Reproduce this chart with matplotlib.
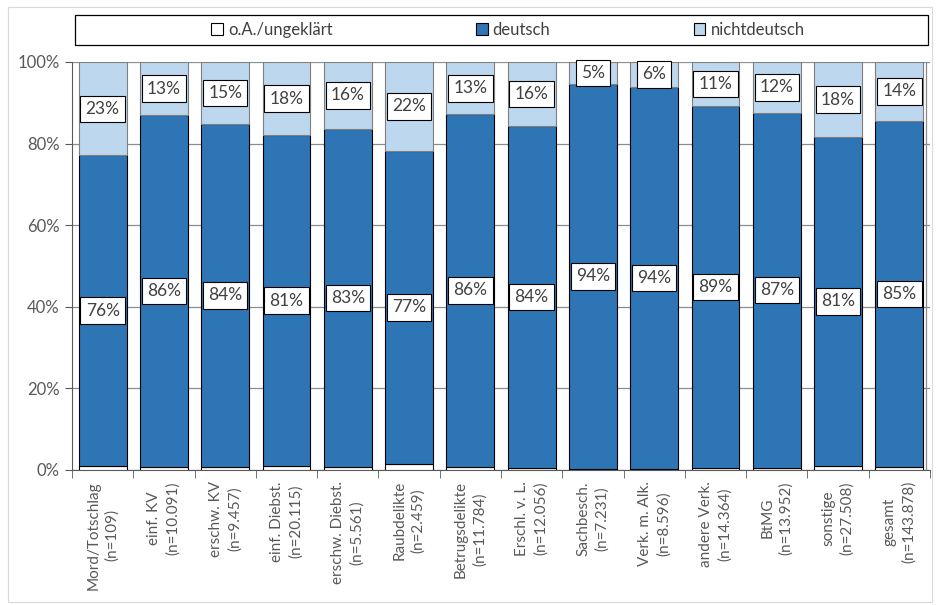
import matplotlib.pyplot as plt
import numpy as np
from matplotlib.patches import Rectangle

plt.rcParams['font.family'] = ['Lato', 'DejaVu Sans']

categories = ['Mord/Totschlag\n(n=109)', 'einf. KV\n(n=10.091)', 'erschw. KV\n(n=9.457)',
              'einf. Diebst.\n(n=20.115)', 'erschw. Diebst.\n(n=5.561)', 'Raubdelikte\n(n=2.459)',
              'Betrugsdelikte\n(n=11.784)', 'Erschl. v. L.\n(n=12.056)', 'Sachbesch.\n(n=7.231)',
              'Verk. m. Alk.\n(n=8.596)', 'andere Verk.\n(n=14.364)', 'BtMG\n(n=13.952)',
              'sonstige\n(n=27.508)', 'gesamt\n(n=143.878)']
oa = [1.0, 0.8, 0.8, 0.9, 0.8, 1.5, 0.8, 0.5, 0.3, 0.2, 0.4, 0.6, 1.0, 0.8]
deutsch = [76.1, 86.2, 84.0, 81.2, 82.8, 76.7, 86.4, 83.8, 94.3, 93.7, 88.8, 87.0, 80.6, 84.8]
nichtdeutsch = [22.9, 13.0, 15.2, 17.9, 16.4, 21.8, 12.7, 15.7, 5.4, 6.1, 10.8, 12.4, 18.4, 14.4]

c_oa = '#ffffff'
c_de = '#2e75b6'
c_nd = '#bdd7ee'
txt = '#404040'

fig = plt.figure(figsize=(9.4, 6.05), dpi=100)
ax = fig.add_axes([72 / 940, 135 / 605, (930 - 72) / 940, (470 - 62) / 605])

x = np.arange(len(categories))
oa = np.array(oa)
deutsch = np.array(deutsch)
nichtdeutsch = np.array(nichtdeutsch)

w = 0.78
ax.bar(x, oa, w, color=c_oa, edgecolor='black', linewidth=0.8, label='o.A./ungeklärt', zorder=3)
ax.bar(x, deutsch, w, bottom=oa, color=c_de, edgecolor='black', linewidth=0.8, label='deutsch', zorder=3)
ax.bar(x, nichtdeutsch, w, bottom=oa + deutsch, color=c_nd, edgecolor='#7f7f7f', linewidth=0.8,
       label='nichtdeutsch', zorder=3)

box = dict(boxstyle='square,pad=0.3', fc='white', ec='black', lw=0.8)
for i in x:
    ax.text(i, oa[i] + deutsch[i] / 2, f'{deutsch[i]:.0f}%', ha='center', va='center',
            fontsize=12.5, color=txt, bbox=box, zorder=5)
    ax.text(i, oa[i] + deutsch[i] + nichtdeutsch[i] / 2, f'{nichtdeutsch[i]:.0f}%', ha='center',
            va='center', fontsize=12.5, color=txt, bbox=box, zorder=5)

ax.set_xlim(-0.5, len(categories) - 0.5)
ax.set_ylim(0, 100)
ax.set_yticks(np.arange(0, 101, 20))
ax.set_yticklabels([f'{v}%' for v in range(0, 101, 20)], fontsize=12, color='#595959')
ax.yaxis.grid(True, color='#8c8c8c', linewidth=0.9, zorder=0)
ax.axvline(len(categories) - 0.57, color='#8c8c8c', linewidth=0.9, zorder=1)

ax.set_xticks(x)
ax.set_xticklabels(categories, rotation=90, fontsize=11, color='#595959', ha='center', va='top',
                   multialignment='center', linespacing=1.4)
ax.tick_params(axis='x', length=0, pad=8)
ax.set_xticks(np.arange(len(categories) + 1) - 0.5, minor=True)
ax.tick_params(axis='x', which='minor', length=6, color='#595959')
ax.tick_params(axis='y', length=5, color='#595959', pad=4)

for s in ['top', 'right']:
    ax.spines[s].set_visible(False)
ax.spines['left'].set_color('#595959')
ax.spines['bottom'].set_color('#595959')

# legend box
fig.patches.append(Rectangle((75 / 940, 1 - 45 / 605), (928 - 75) / 940, 30 / 605,
                             transform=fig.transFigure, fc='white', ec='black', lw=0.9))
handles, labels = ax.get_legend_handles_labels()
leg = fig.legend(handles, labels, loc='center', bbox_to_anchor=(508 / 940, 1 - 30 / 605), ncol=3,
                 frameon=False, fontsize=12, handlelength=0.7, handleheight=0.7,
                 handletextpad=0.3, columnspacing=8.6, labelcolor=txt)
for h in leg.legend_handles:
    h.set_edgecolor('black')

fig.patches.append(Rectangle((8 / 940, 0.005), 1 - 16 / 940, 1 - 10 / 605,
                             transform=fig.transFigure, fill=False, ec='#d9d9d9', lw=0.8))

fig.savefig('out.png', dpi=100)
